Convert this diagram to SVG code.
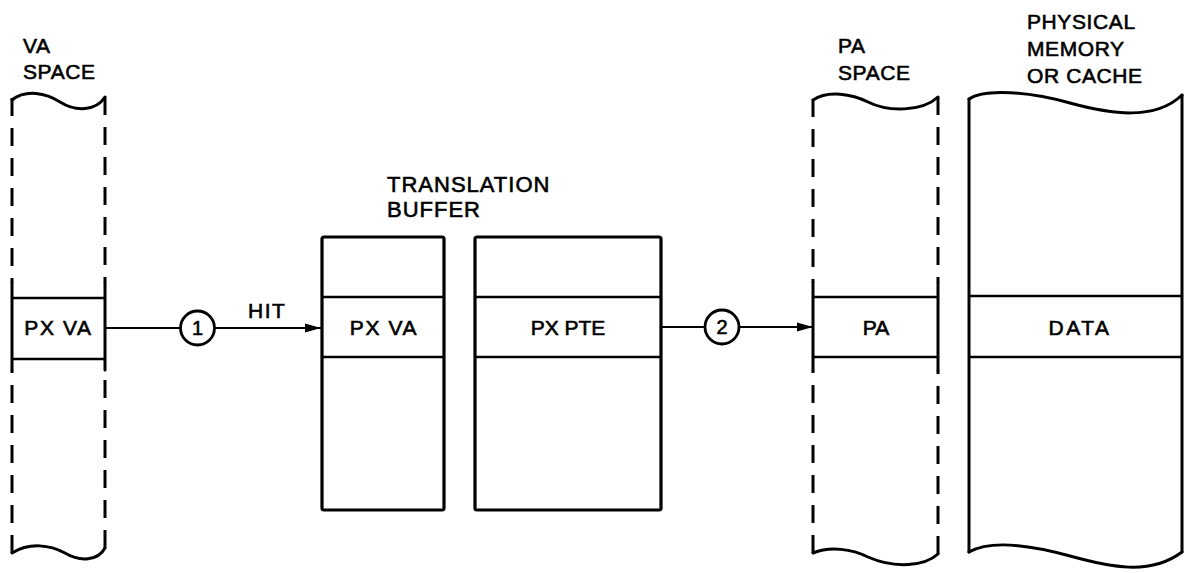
<svg xmlns="http://www.w3.org/2000/svg" width="1184" height="573" viewBox="0 0 1184 573">
<style>
text{font-family:"Liberation Sans",Arial,sans-serif;fill:#000;stroke:#000;stroke-width:0.6;font-size:21px}
.lbl{letter-spacing:0.6px}
.mid{text-anchor:middle}
.wide{letter-spacing:1.6px}
.edge{fill:none;stroke:#000;stroke-width:3;stroke-linecap:round}
.dash{fill:none;stroke:#000;stroke-width:3;stroke-dasharray:18 12}
.row{fill:none;stroke:#000;stroke-width:2.5}
.box{fill:#fff;stroke:#000;stroke-width:3.2}
.conn{fill:none;stroke:#000;stroke-width:2.2}
.circ{fill:#fff;stroke:#000;stroke-width:2.8}
.num{font-size:20px;text-anchor:middle}
</style>
<defs>
<marker id="arr" viewBox="0 0 16 10" refX="16" refY="5" markerWidth="16" markerHeight="10" markerUnits="userSpaceOnUse" orient="auto">
<path d="M0,0.5 L16,5 L0,9.5 Z" fill="#000"/>
</marker>
</defs>

<g id="va-space">
<text class="lbl" x="23" y="53">VA</text>
<text class="lbl" x="23" y="79">SPACE</text>
<path class="edge" d="M12,100 C 26,89 46,93 60,102 C 76,112 96,111 105,97"/>
<path class="edge" d="M12,553 C 30,542 50,545 65,553 C 80,562 98,561 105,548"/>
<path class="dash" d="M12,98 V283"/>
<path class="dash" d="M105,97 V283"/>
<path class="dash" d="M12,553 V370"/>
<path class="dash" d="M105,548 V370"/>
<path class="edge" d="M12,283 V370 M105,283 V370"/>
<path class="row" d="M12,298 H105 M12,359 H105"/>
<text class="mid wide" x="58.5" y="335">PX VA</text>
</g>

<g id="translation-buffer">
<text x="387" y="192" style="font-size:22px;letter-spacing:1px">TRANSLATION</text>
<text x="387" y="217" style="font-size:22px;letter-spacing:1px">BUFFER</text>
</g>

<g id="tb-va">
<rect class="box" x="322" y="237" width="122" height="273" rx="2"/>
<path class="row" d="M322,297 H444 M322,357 H444"/>
<text class="mid wide" x="384" y="335">PX VA</text>
</g>

<g id="tb-pte">
<rect class="box" x="475" y="237" width="186" height="273" rx="2"/>
<path class="row" d="M475,297 H661 M475,357 H661"/>
<text class="mid" x="568" y="335">PX PTE</text>
</g>

<g id="pa-space">
<text class="lbl" x="838" y="53">PA</text>
<text class="lbl" x="838" y="80">SPACE</text>
<path class="edge" d="M813,100 C 828,90 852,94 868,102 C 888,112 922,112 938,97"/>
<path class="edge" d="M813,553 C 830,546 852,549 868,557 C 895,569 925,566 938,554"/>
<path class="dash" d="M813,99 V283"/>
<path class="dash" d="M938,97 V283"/>
<path class="dash" d="M813,553 V370"/>
<path class="dash" d="M938,554 V370"/>
<path class="edge" d="M813,283 V370 M938,283 V370"/>
<path class="row" d="M813,297 H938 M813,357 H938"/>
<text class="mid" x="876" y="335">PA</text>
</g>

<g id="physical-memory">
<text class="lbl" x="1027" y="29">PHYSICAL</text>
<text class="lbl" x="1027" y="56">MEMORY</text>
<text class="lbl" x="1027" y="83">OR CACHE</text>
<path class="edge" d="M969,99 C 985,88 1030,92 1070,103 C 1110,114 1155,121 1182,95"/>
<path class="edge" d="M969,552 C 990,540 1030,545 1070,556 C 1110,567 1150,576 1182,552"/>
<path class="edge" d="M969,99 V552 M1182,95 V552"/>
<path class="row" d="M969,296 H1182 M969,357 H1182"/>
<text class="mid" x="1080" y="335" style="letter-spacing:2.5px">DATA</text>
</g>

<g id="connectors">
<path class="conn" d="M105,328 H180"/>
<path class="conn" d="M215,328 H321" marker-end="url(#arr)"/>
<path class="conn" d="M661,327 H704"/>
<path class="conn" d="M740,327 H813" marker-end="url(#arr)"/>
<circle class="circ" cx="197.5" cy="328" r="17"/>
<text class="num" x="197.5" y="335">1</text>
<circle class="circ" cx="722" cy="327" r="17"/>
<text class="num" x="722" y="334">2</text>
<text x="248" y="318" style="letter-spacing:1.5px">HIT</text>
</g>
</svg>
